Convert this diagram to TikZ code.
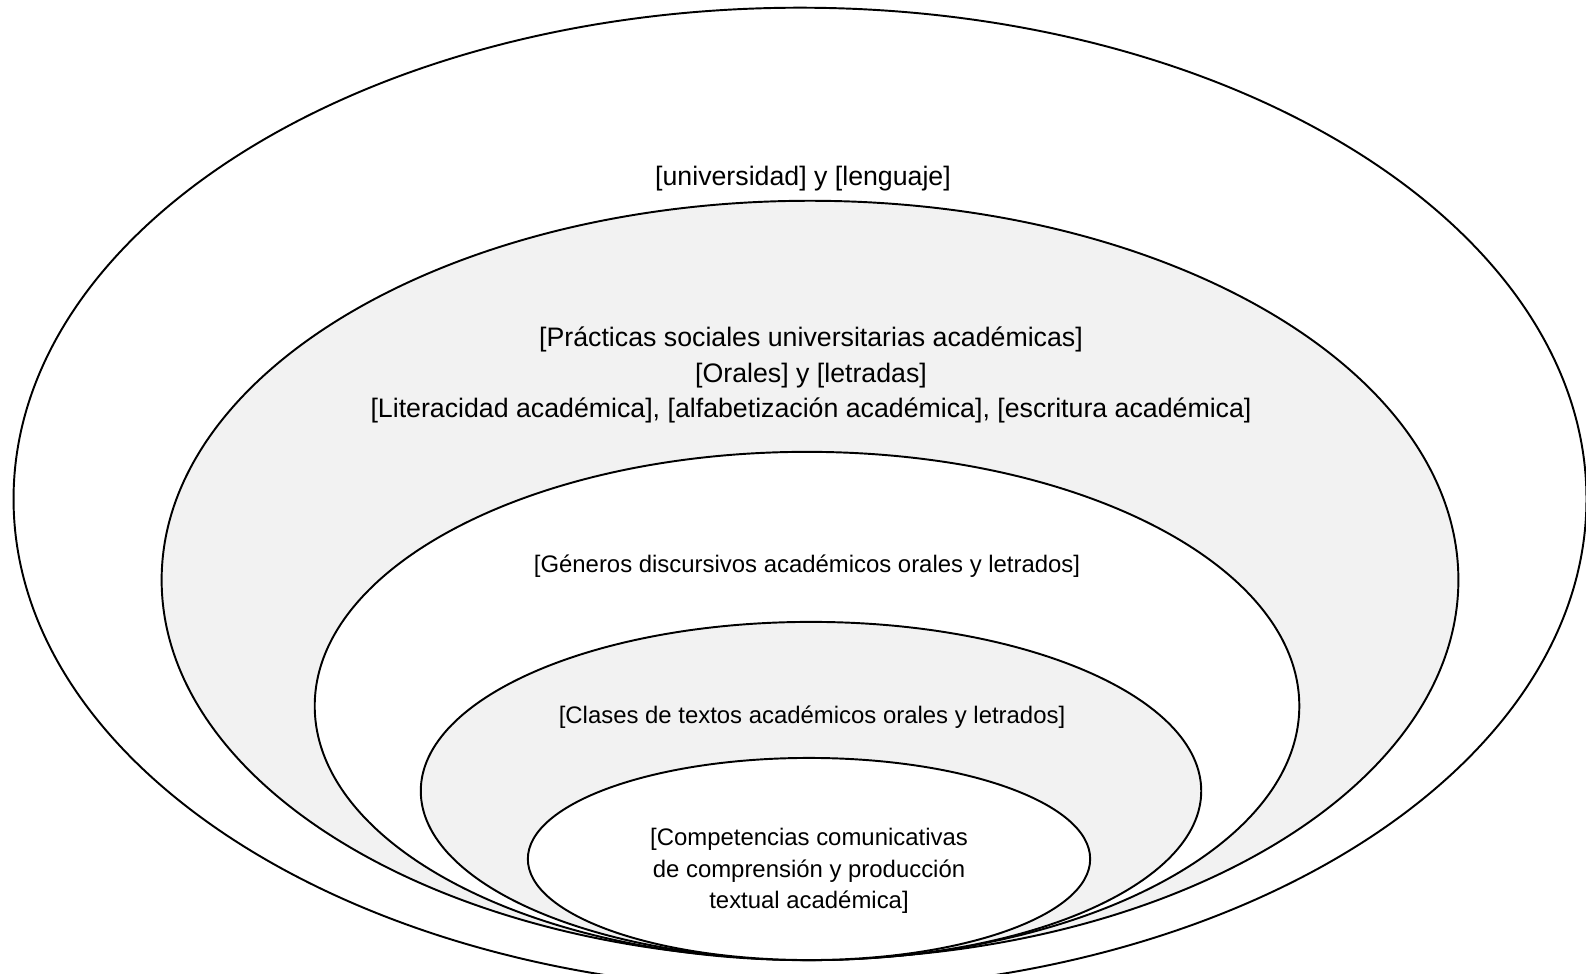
\documentclass[tikz,border=0pt]{standalone}
\usepackage{fontspec}
\setmainfont{Liberation Sans}
\usepackage{tikz}
\definecolor{ringgray}{HTML}{F2F2F2}
\tikzset{ring/.style={draw,line width=0.55pt},
         big text/.style={align=center,inner sep=0pt,font=\fontsize{7.6}{10.05}\selectfont},
         small text/.style={align=center,inner sep=0pt,font=\fontsize{6.8}{8.9}\selectfont}}

\begin{document}
\begin{tikzpicture}[x=0.01cm,y=0.01cm]
    \useasboundingbox (0,0) rectangle (1586,-974);
    \clip (0,0) rectangle (1586,-974);
    % nested rings, outer to inner, all touching at the bottom
    \draw[ring,fill=white]     (800,-499) ellipse [x radius=7.86cm, y radius=4.91cm];
    \draw[ring,fill=ringgray]  (810,-580) ellipse [x radius=6.48cm, y radius=3.79cm];
    \draw[ring,fill=white]     (807,-706) ellipse [x radius=4.92cm, y radius=2.54cm];
    \draw[ring,fill=ringgray]  (811,-791) ellipse [x radius=3.90cm, y radius=1.69cm];
    \draw[ring,fill=white]     (809,-859) ellipse [x radius=2.81cm, y radius=1.01cm];
    % labels
    \node[big text] (univ) at (803,-179) {[universidad] y [lenguaje]};
    \node[big text] (prac) at (811,-375) {[Prácticas sociales universitarias académicas]\\
        {[Orales] y [letradas]}\\
        {[Literacidad académica], [alfabetización académica], [escritura académica]}};
    \node[small text] (gen)  at (807,-566) {[Géneros discursivos académicos orales y letrados]};
    \node[small text] (clas) at (812,-717) {[Clases de textos académicos orales y letrados]};
    \node[small text] (comp) at (809,-871) {[Competencias comunicativas\\
        de comprensión y producción\\
        textual académica]};
\end{tikzpicture}
\end{document}
